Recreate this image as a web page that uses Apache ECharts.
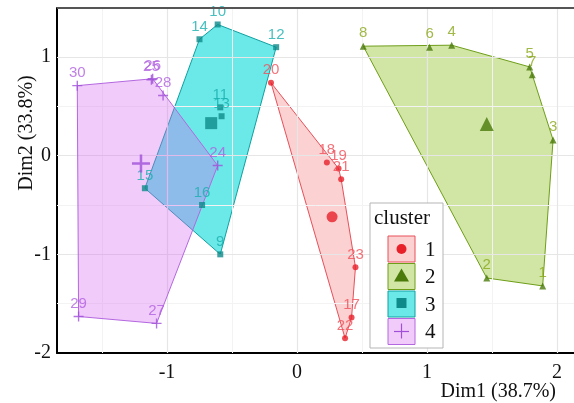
<!DOCTYPE html>
<html>
<head>
<meta charset="utf-8">
<script src="https://cdn.jsdelivr.net/npm/echarts@6/dist/echarts.min.js"></script>
<style>html,body{margin:0;padding:0;background:#fff;}#c{width:574px;height:403px;}</style>
</head>
<body>
<div id="c"></div>
<script>
// ---- data ----
const clusterNames = ['1', '2', '3', '4'];
const c1Labels = ['17', '18', '19', '20', '21', '22', '23'];
const c1X = [0.42, 0.23, 0.32, -0.20, 0.34, 0.37, 0.45];
const c1Y = [-1.64, -0.07, -0.13, 0.74, -0.24, -1.85, -1.13];
const c2Labels = ['1', '2', '3', '4', '5', '6', '7', '8'];
const c2X = [1.89, 1.46, 1.97, 1.19, 1.79, 1.02, 1.81, 0.51];
const c2Y = [-1.32, -1.24, 0.16, 1.12, 0.90, 1.10, 0.82, 1.11];
const c3Labels = ['9', '10', '11', '12', '13', '14', '15', '16'];
const c3X = [-0.59, -0.61, -0.59, -0.16, -0.58, -0.75, -1.17, -0.73];
const c3Y = [-1.00, 1.33, 0.49, 1.10, 0.40, 1.18, -0.33, -0.50];
const c4Labels = ['24', '25', '26', '27', '28', '29', '30'];
const c4X = [-0.61, -1.12, -1.11, -1.08, -1.03, -1.68, -1.69];
const c4Y = [-0.10, 0.77, 0.78, -1.70, 0.61, -1.63, 0.71];
const centroidX = [0.27, 1.46, -0.66, -1.20];
const centroidY = [-0.62, 0.32, 0.33, -0.08];
const xTicks = [-1, 0, 1, 2];
const yTicks = [-2, -1, 0, 1];
const xMinor = [-1.5, -0.5, 0.5, 1.5];
const yMinor = [-1.5, -0.5, 0.5];

// ---- styles ----
const fills = ['rgba(240,90,90,0.28)', 'rgba(140,190,30,0.40)', 'rgba(0,215,215,0.58)', 'rgba(212,98,240,0.33)'];
const strokes = ['#E8505A', '#6E9E18', '#10A0A0', '#B468E0'];
const markers = ['#E8202A', '#4A7A0A', '#0E8A8A', '#A050D8'];
const labelCols = ['#F0505A', '#8AA81A', '#1AAFAF', '#B060E0'];
const plus = 'path://M4.3,0H5.7V4.3H10V5.7H5.7V10H4.3V5.7H0V4.3H4.3Z';
const symbols = ['circle', 'triangle', 'rect', plus];
const sizes = [6, 7, 6, 10];
const csizes = [11, 14, 12, 18];

const clusters = [
  [c1Labels, c1X, c1Y], [c2Labels, c2X, c2Y], [c3Labels, c3X, c3Y], [c4Labels, c4X, c4Y]
];

function hull(pts) {
  const p = pts.slice().sort((a, b) => a[0] - b[0] || a[1] - b[1]);
  const cross = (o, a, b) => (a[0] - o[0]) * (b[1] - o[1]) - (a[1] - o[1]) * (b[0] - o[0]);
  const lower = [], upper = [];
  for (const q of p) { while (lower.length >= 2 && cross(lower[lower.length - 2], lower[lower.length - 1], q) <= 0) lower.pop(); lower.push(q); }
  for (let i = p.length - 1; i >= 0; i--) { const q = p[i]; while (upper.length >= 2 && cross(upper[upper.length - 2], upper[upper.length - 1], q) <= 0) upper.pop(); upper.push(q); }
  upper.pop(); lower.pop();
  return lower.concat(upper);
}

const series = [];
// grid lines via markLine
series.push({
  type: 'line', data: [], silent: true,
  markLine: {
    symbol: 'none', silent: true, label: { show: false },
    data: xMinor.map(v => ({ xAxis: v, lineStyle: { color: '#F3F3F3', width: 1, type: 'solid' } }))
      .concat(yMinor.map(v => ({ yAxis: v, lineStyle: { color: '#F3F3F3', width: 1, type: 'solid' } })))
      .concat(xTicks.map(v => ({ xAxis: v, lineStyle: { color: '#E6E6E6', width: 1.2, type: 'solid' } })))
      .concat(yTicks.slice(1).map(v => ({ yAxis: v, lineStyle: { color: '#E6E6E6', width: 1.2, type: 'solid' } })))
  }
});

clusters.forEach((c, k) => {
  const pts = c[1].map((x, i) => [x, c[2][i]]);
  const h = hull(pts);
  series.push({
    type: 'custom', silent: true, z: 2 + k,
    data: h,
    renderItem: function (params, api) {
      if (params.dataIndex !== 0) return null;
      return {
        type: 'polygon',
        shape: { points: h.map(q => api.coord(q)) },
        style: { fill: fills[k], stroke: strokes[k], lineWidth: 1 }
      };
    }
  });
});

clusters.forEach((c, k) => {
  series.push({
    type: 'scatter', z: 10, symbol: symbols[k], symbolSize: sizes[k],
    itemStyle: { color: markers[k] },
    data: c[1].map((x, i) => ({ value: [x, c[2][i]], name: c[0][i] })),
    label: {
      show: true, position: 'top', distance: k === 3 ? 0 : 2,
      formatter: p => p.name, color: labelCols[k],
      fontFamily: 'Liberation Sans', fontSize: 15
    }
  });
  series.push({
    type: 'scatter', z: 11, symbol: symbols[k], symbolSize: csizes[k],
    itemStyle: { color: markers[k] },
    data: [[centroidX[k], centroidY[k]]]
  });
});

// legend drawn with graphics
const lg = [];
lg.push({ type: 'rect', shape: { x: 370, y: 203, width: 73, height: 145 }, style: { fill: '#fff', stroke: '#b5b5b5', lineWidth: 1 }, z: 100 });
lg.push({ type: 'text', x: 374, y: 218, style: { text: 'cluster', fontFamily: 'Liberation Serif', fontSize: 21, fill: '#111', verticalAlign: 'middle' }, z: 101 });
clusterNames.forEach((n, k) => {
  const cy = 249 + k * 27.5;
  lg.push({ type: 'rect', shape: { x: 388, y: cy - 13, width: 27, height: 26 }, style: { fill: fills[k], stroke: strokes[k], lineWidth: 1 }, z: 101 });
  let sym;
  if (k === 0) sym = { type: 'circle', shape: { cx: 401.5, cy: cy, r: 5 }, style: { fill: markers[k] }, z: 102 };
  else if (k === 1) sym = { type: 'polygon', shape: { points: [[401.5, cy - 8], [394, cy + 5], [409, cy + 5]] }, style: { fill: markers[k] }, z: 102 };
  else if (k === 2) sym = { type: 'rect', shape: { x: 396.5, y: cy - 6, width: 10, height: 10 }, style: { fill: markers[k] }, z: 102 };
  else sym = { type: 'group', z: 102, children: [
    { type: 'line', shape: { x1: 394, y1: cy, x2: 409, y2: cy }, style: { stroke: markers[k], lineWidth: 1.2 }, z: 102 },
    { type: 'line', shape: { x1: 401.5, y1: cy - 8, x2: 401.5, y2: cy + 7 }, style: { stroke: markers[k], lineWidth: 1.2 }, z: 102 }
  ] };
  lg.push(sym);
  lg.push({ type: 'text', x: 425, y: cy + 1, style: { text: n, fontFamily: 'Liberation Serif', fontSize: 21, fill: '#111', verticalAlign: 'middle' }, z: 101 });
});
// axis titles and top border
lg.push({ type: 'text', x: 556, y: 392, style: { text: 'Dim1 (38.7%)', fontFamily: 'Liberation Serif', fontSize: 20, fill: '#111', align: 'right', verticalAlign: 'middle' }, z: 101 });
lg.push({ type: 'text', x: 27, y: 133, rotation: Math.PI / 2, style: { text: 'Dim2 (33.8%)', fontFamily: 'Liberation Serif', fontSize: 20, fill: '#111', align: 'center', verticalAlign: 'middle' }, z: 101 });
lg.push({ type: 'line', shape: { x1: 57, y1: 8, x2: 574, y2: 8 }, style: { stroke: '#555', lineWidth: 2 }, z: 101 });

const chart = echarts.init(document.getElementById('c'), null, { renderer: 'canvas' });
chart.setOption({
  animation: false,
  backgroundColor: '#fff',
  grid: { left: 57, right: 0, top: 8, bottom: 50 },
  xAxis: {
    type: 'value', min: -1.846, max: 2.131,
    axisLine: { show: true, onZero: false, lineStyle: { color: '#000', width: 2 } },
    axisTick: { show: false, customValues: xTicks },
    axisLabel: { customValues: xTicks, fontFamily: 'Liberation Serif', fontSize: 20, color: '#111', margin: 10 },
    splitLine: { show: false }
  },
  yAxis: {
    type: 'value', min: -2, max: 1.497,
    axisLine: { show: true, onZero: false, lineStyle: { color: '#000', width: 2 } },
    axisTick: { show: false, customValues: yTicks },
    axisLabel: { customValues: yTicks, fontFamily: 'Liberation Serif', fontSize: 20, color: '#111', margin: 6 },
    splitLine: { show: false }
  },
  series: series,
  graphic: lg
});
</script>
</body>
</html>
